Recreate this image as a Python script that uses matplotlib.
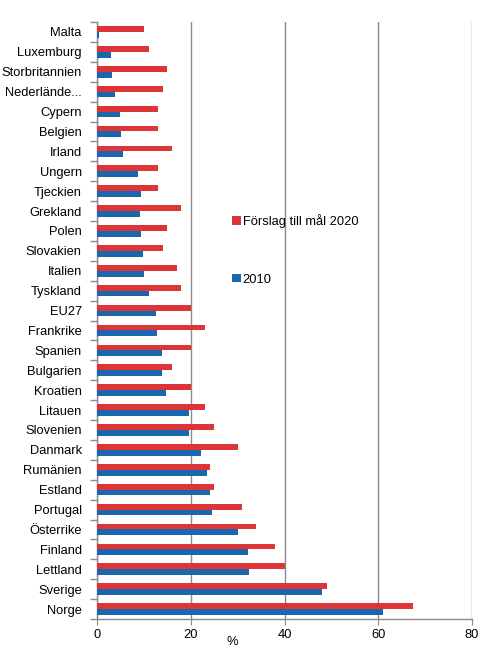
import matplotlib.pyplot as plt
import numpy as np

plt.rcParams['font.family'] = ['Liberation Sans', 'DejaVu Sans']

# top to bottom, as in the picture
countries = ['Malta', 'Luxemburg', 'Storbritannien', 'Nederlände...', 'Cypern', 'Belgien',
             'Irland', 'Ungern', 'Tjeckien', 'Grekland', 'Polen', 'Slovakien', 'Italien',
             'Tyskland', 'EU27', 'Frankrike', 'Spanien', 'Bulgarien', 'Kroatien', 'Litauen',
             'Slovenien', 'Danmark', 'Rumänien', 'Estland', 'Portugal', 'Österrike',
             'Finland', 'Lettland', 'Sverige', 'Norge']
target_2020 = [10, 11, 15, 14, 13, 13, 16, 13, 13, 18, 15, 14, 17, 18, 20, 23, 20, 16, 20,
               23, 25, 30, 24, 25, 31, 34, 38, 40, 49, 67.5]
share_2010 = [0.4, 2.9, 3.3, 3.8, 4.8, 5.1, 5.5, 8.7, 9.4, 9.2, 9.4, 9.8, 10.1, 11.0, 12.5,
              12.8, 13.8, 13.8, 14.7, 19.7, 19.6, 22.2, 23.4, 24.2, 24.6, 30.1, 32.2, 32.5,
              48.0, 61.1]

red = '#dc3437'
blue = '#1a67b0'
grid_grey = '#8c8c8c'
fs = 9.3

fig = plt.figure(figsize=(4.93, 6.62), dpi=100)
ax = fig.add_axes([97 / 493, 1 - 619 / 662, 375 / 493, 597 / 662])

n = len(countries)
y = np.arange(n)[::-1]
h = 0.29
ax.barh(y + h / 2, target_2020, height=h, color=red, label='Förslag till mål 2020', zorder=3)
ax.barh(y - h / 2, share_2010, height=h, color=blue, label='2010', zorder=3)

ax.set_xlim(0, 80)
ax.set_ylim(-0.5, n - 0.5)
ax.set_xticks([0, 20, 40, 60, 80])
ax.set_yticks(y)
ax.set_yticklabels(countries, fontsize=fs)
ax.set_yticks(np.arange(n + 1) - 0.5, minor=True)
ax.tick_params(axis='y', which='major', length=0, pad=11)
ax.tick_params(axis='y', which='minor', length=5, color=grid_grey, width=1)
ax.tick_params(axis='x', length=4, color=grid_grey, labelsize=fs, pad=3)
ax.grid(axis='x', color=grid_grey, linewidth=1, zorder=0)

for s in ['top', 'right']:
    ax.spines[s].set_visible(False)
for s in ['left', 'bottom']:
    ax.spines[s].set_color(grid_grey)
    ax.spines[s].set_linewidth(1)

ax.set_xlabel('%', fontsize=fs, labelpad=3)
ax.xaxis.set_label_coords(0.36, -0.028)
ax.legend(loc='upper left', bbox_to_anchor=(0.33, 0.698), frameon=False, fontsize=fs,
          handlelength=0.65, handleheight=0.65, handletextpad=0.15, labelspacing=3.55)

fig.savefig('out.png', dpi=100)
